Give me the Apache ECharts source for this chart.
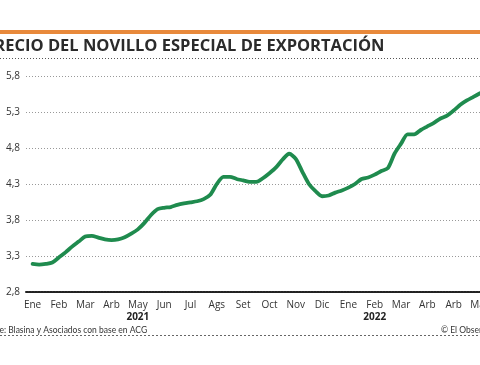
<!DOCTYPE html>
<html>
<head>
<meta charset="utf-8">
<script src="https://cdn.jsdelivr.net/npm/echarts@6/dist/echarts.min.js"></script>
<style>
html,body{margin:0;padding:0;background:#fff;overflow:hidden;}
#c{width:480px;height:365px;}
</style>
</head>
<body>
<div id="c"></div>
<script>
// Month labels (one every 4 weekly points)
const months = ['Ene','Feb','Mar','Arb','May','Jun','Jul','Ags','Set','Oct','Nov','Dic','Ene','Feb','Mar','Arb','Arb','May'];
const yearLabels = ['','','','','2021','','','','','','','','','2022','','','',''];
// Weekly price of the export steer (USD/kg)
const prices = [
  3.19,3.18,3.19,3.21, 3.28,3.35,3.43,3.50, 3.57,3.58,3.555,3.53,
  3.52,3.53,3.56,3.61, 3.67,3.76,3.87,3.95, 3.97,3.98,4.01,4.03,
  4.045,4.06,4.09,4.15, 4.30,4.40,4.40,4.37, 4.35,4.33,4.33,4.38,
  4.45,4.53,4.64,4.72, 4.65,4.47,4.30,4.20, 4.13,4.14,4.18,4.21,
  4.25,4.30,4.37,4.39, 4.43,4.48,4.52,4.72, 4.86,4.99,4.99,5.05,
  5.10,5.15,5.21,5.25, 5.32,5.40,5.46,5.51, 5.56
];
const yTicks = {min: 2.8, max: 5.8, step: 0.5};
const titleText = 'PRECIO DEL NOVILLO ESPECIAL DE EXPORTACIÓN';
const sourceText = 'Fuente: Blasina y Asociados con base en ACG';
const creditText = '© El Observador';

const chart = echarts.init(document.getElementById('c'), null, {renderer:'canvas'});
const font = '"Open Sans", "Noto Sans", sans-serif';
chart.setOption({
  backgroundColor: '#ffffff',
  animation: false,
  textStyle: {fontFamily: font},
  grid: {left: 26, right: 0, top: 76, bottom: 73, containLabel: false, outerBoundsMode: 'none'},
  xAxis: {
    type: 'value',
    min: -1,
    max: 68,
    interval: 1,
    axisLine: {show: true, onZero: false, lineStyle: {color: '#222', width: 2, type: [2, 1]}},
    axisTick: {show: false},
    splitLine: {show: false},
    axisLabel: {
      customValues: months.map((m, k) => k * 4),
      showMinLabel: true, showMaxLabel: true,
      hideOverlap: false,
      margin: 7,
      fontSize: 10,
      color: '#333',
      lineHeight: 12,
      fontFamily: font,
      formatter: function (val) {
        const k = Math.round(val / 4);
        const y = yearLabels[k];
        return y ? months[k] + '\n{y|' + y + '}' : months[k];
      },
      rich: {y: {fontWeight: 'bold', fontSize: 10, color: '#222', lineHeight: 12, fontFamily: font}}
    }
  },
  yAxis: {
    type: 'value',
    min: yTicks.min,
    max: yTicks.max,
    interval: yTicks.step,
    axisLine: {show: false},
    axisTick: {show: false},
    axisLabel: {
      margin: 6,
      fontSize: 10,
      color: '#333',
      fontFamily: font,
      formatter: v => v.toFixed(1).replace('.', ',')
    },
    splitLine: {show: true, lineStyle: {color: '#999', width: 1, type: [1, 2]}}
  },
  series: [{
    type: 'line',
    data: prices.map((v, i) => [i, v]),
    showSymbol: false,
    smooth: 0.25,
    lineStyle: {color: '#1f8b4e', width: 3.8, cap: 'round', join: 'round'},
    z: 5
  }],
  graphic: [
    {type: 'rect', shape: {x: 0, y: 30, width: 480, height: 4}, style: {fill: '#e8893b'}, silent: true},
    {type: 'text', x: -16, y: 46, style: {text: titleText, fill: '#2b2b2b', font: 'bold 16.5px "Open Sans", sans-serif', textVerticalAlign: 'middle'}, silent: true},
    {type: 'line', shape: {x1: 0, y1: 58.5, x2: 480, y2: 58.5}, style: {stroke: '#555', lineWidth: 1.2, lineDash: [1, 2]}, silent: true},
    {type: 'text', x: -22, y: 330, style: {text: sourceText, fill: '#333', font: '8.5px Lato, sans-serif', textVerticalAlign: 'middle'}, silent: true},
    {type: 'text', x: 441, y: 330, style: {text: creditText, fill: '#333', font: '8.5px Lato, sans-serif', textVerticalAlign: 'middle'}, silent: true},
    {type: 'line', shape: {x1: 0, y1: 335.5, x2: 480, y2: 335.5}, style: {stroke: '#666', lineWidth: 1, lineDash: [2, 2]}, silent: true}
  ]
});
</script>
</body>
</html>
